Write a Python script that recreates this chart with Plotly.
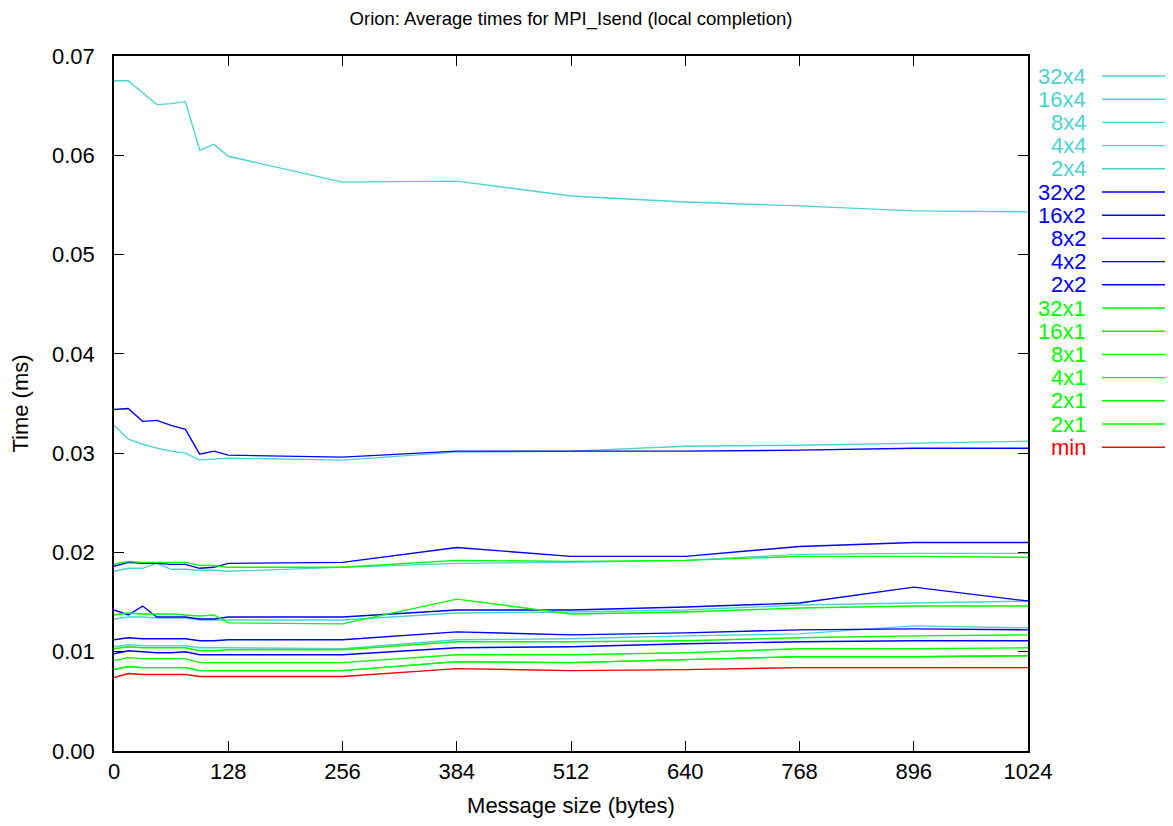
import plotly.graph_objects as go

# message sizes (bytes)
sizes = [0, 16, 32, 48, 64, 80, 96, 112, 128, 256, 384, 512, 640, 768, 896, 1024]

# average times (ms)
t_32x4 = [0.0675, 0.0675, 0.0663, 0.0651, 0.0652, 0.0654, 0.0605, 0.0611, 0.0599, 0.0573,
          0.0574, 0.0559, 0.0553, 0.0549, 0.0544, 0.0543]
t_16x4 = [0.0328, 0.0314, 0.0309, 0.0305, 0.0302, 0.0300, 0.0293, 0.0294, 0.0295, 0.0293,
          0.0301, 0.0302, 0.0307, 0.0308, 0.0310, 0.0312]
t_8x4 = [0.0181, 0.0184, 0.0184, 0.0189, 0.0183, 0.0183, 0.0182, 0.0182, 0.0181, 0.0185,
         0.0189, 0.0190, 0.0192, 0.0198, 0.0199, 0.0199]
t_4x4 = [0.0133, 0.0135, 0.0135, 0.0134, 0.0134, 0.0134, 0.0132, 0.0132, 0.0132, 0.0132,
         0.0139, 0.0140, 0.0142, 0.0147, 0.0149, 0.0151]
t_2x4 = [0.0105, 0.0107, 0.0106, 0.0106, 0.0106, 0.0106, 0.0104, 0.0104, 0.0104, 0.0103,
         0.0112, 0.0113, 0.0116, 0.0118, 0.0126, 0.0124]

t_32x2 = [0.0344, 0.0345, 0.0332, 0.0333, 0.0328, 0.0324, 0.0299, 0.0302, 0.0298, 0.0296,
          0.0302, 0.0302, 0.0302, 0.0303, 0.0305, 0.0305]
t_16x2 = [0.0186, 0.0190, 0.0189, 0.0189, 0.0188, 0.0188, 0.0184, 0.0185, 0.0189, 0.0190,
          0.0205, 0.0196, 0.0196, 0.0206, 0.0210, 0.0210]
t_8x2 = [0.0142, 0.0137, 0.0146, 0.0135, 0.0135, 0.0135, 0.0133, 0.0133, 0.0135, 0.0135,
         0.0142, 0.0142, 0.0145, 0.0149, 0.0165, 0.0151]
t_4x2 = [0.0112, 0.0114, 0.0113, 0.0113, 0.0113, 0.0113, 0.0111, 0.0111, 0.0112, 0.0112,
         0.0120, 0.0117, 0.0119, 0.0122, 0.0123, 0.0122]
t_2x2 = [0.0098, 0.0101, 0.0100, 0.0099, 0.0099, 0.0100, 0.0097, 0.0097, 0.0097, 0.0097,
         0.0104, 0.0105, 0.0108, 0.0110, 0.0111, 0.0111]

t_32x1 = [0.0188, 0.0191, 0.0190, 0.0190, 0.0190, 0.0190, 0.0187, 0.0187, 0.0185, 0.0185,
          0.0192, 0.0191, 0.0192, 0.0196, 0.0196, 0.0195]
t_16x1 = [0.0137, 0.0139, 0.0138, 0.0138, 0.0138, 0.0137, 0.0136, 0.0137, 0.0129, 0.0128,
          0.0153, 0.0138, 0.0140, 0.0144, 0.0146, 0.0146]
t_8x1 = [0.0103, 0.0105, 0.0104, 0.0104, 0.0104, 0.0104, 0.0101, 0.0101, 0.0102, 0.0102,
         0.0110, 0.0110, 0.0111, 0.0114, 0.0116, 0.0117]
t_4x1 = [0.0091, 0.0094, 0.0093, 0.0093, 0.0093, 0.0093, 0.0089, 0.0089, 0.0089, 0.0089,
         0.0097, 0.0097, 0.0099, 0.0103, 0.0103, 0.0104]
t_2x1 = [0.0082, 0.0085, 0.0084, 0.0084, 0.0084, 0.0084, 0.0081, 0.0081, 0.0081, 0.0081,
         0.0090, 0.0089, 0.0092, 0.0095, 0.0095, 0.0096]
t_2x1b = [0.0082, 0.0085, 0.0084, 0.0084, 0.0084, 0.0084, 0.0081, 0.0081, 0.0081, 0.0081,
          0.0090, 0.0089, 0.0092, 0.0095, 0.0095, 0.0096]
t_min = [0.0074, 0.0078, 0.0077, 0.0077, 0.0077, 0.0077, 0.0075, 0.0075, 0.0075, 0.0075,
         0.0083, 0.0081, 0.0082, 0.0084, 0.0084, 0.0084]

CYAN, BLUE, GREEN, RED = "#4dd2d2", "#0000ff", "#00ff00", "#ff0000"

series = [
    ("32x4", t_32x4, CYAN), ("16x4", t_16x4, CYAN), ("8x4", t_8x4, CYAN),
    ("4x4", t_4x4, CYAN), ("2x4", t_2x4, CYAN),
    ("32x2", t_32x2, BLUE), ("16x2", t_16x2, BLUE), ("8x2", t_8x2, BLUE),
    ("4x2", t_4x2, BLUE), ("2x2", t_2x2, BLUE),
    ("32x1", t_32x1, GREEN), ("16x1", t_16x1, GREEN), ("8x1", t_8x1, GREEN),
    ("4x1", t_4x1, GREEN), ("2x1", t_2x1, GREEN), ("2x1", t_2x1b, GREEN),
    ("min", t_min, RED),
]

FONT = "Liberation Sans, Arial, sans-serif"
FS = 22

# plot area in page pixels: x 114..1028, y 56..751 (page has an 8px body margin)
PX0, PW, PY0, PH = 114, 914, 56, 695

fig = go.Figure()
for name, vals, col in series:
    fig.add_trace(go.Scatter(x=sizes, y=vals, mode="lines", name=name,
                             line=dict(color=col, width=1.4), showlegend=False))

# gnuplot style key outside the plot on the right: label, then line sample
for i, (name, vals, col) in enumerate(series):
    yk = 76 + i * 23.2
    yp = 1 - (yk - PY0) / PH
    fig.add_annotation(x=(1088 - PX0) / PW, y=yp, xref="paper", yref="paper", text=name,
                       showarrow=False, xanchor="right", yanchor="middle",
                       font=dict(color=col, size=FS, family=FONT))
    fig.add_shape(type="line", xref="paper", yref="paper",
                  x0=(1102 - PX0) / PW, x1=(1168 - PX0) / PW, y0=yp, y1=yp,
                  line=dict(color=col, width=1.4))

axis_common = dict(showline=True, linecolor="black", linewidth=1.5, mirror="ticks",
                   ticks="inside", ticklen=10, tickcolor="black", tickwidth=1.2,
                   showgrid=False, zeroline=False, automargin=False,
                   tickfont=dict(size=FS, color="black", family=FONT))

fig.update_layout(
    width=1173, height=826,
    margin=dict(l=PX0 - 8, r=1173 - (PX0 - 8) - PW, t=PY0 - 8, b=826 - (PY0 - 8) - PH),
    plot_bgcolor="white", paper_bgcolor="white",
    title=dict(text="Orion: Average times for MPI_Isend (local completion)",
               x=0.5, xref="paper", xanchor="center", y=1 - 11 / 826, yanchor="middle",
               font=dict(size=18.5, color="black", family=FONT)),
    xaxis=dict(range=[0, 1024], tickvals=[0, 128, 256, 384, 512, 640, 768, 896, 1024],
               title=dict(text="Message size (bytes)", standoff=14,
                          font=dict(size=FS, color="black", family=FONT)),
               **axis_common),
    yaxis=dict(range=[0, 0.07], dtick=0.01, tickformat=".2f", ticklabelstandoff=13,
               title=dict(text="Time (ms)", standoff=24,
                          font=dict(size=FS, color="black", family=FONT)),
               **axis_common),
    showlegend=False,
)

fig.write_html("out.html")
